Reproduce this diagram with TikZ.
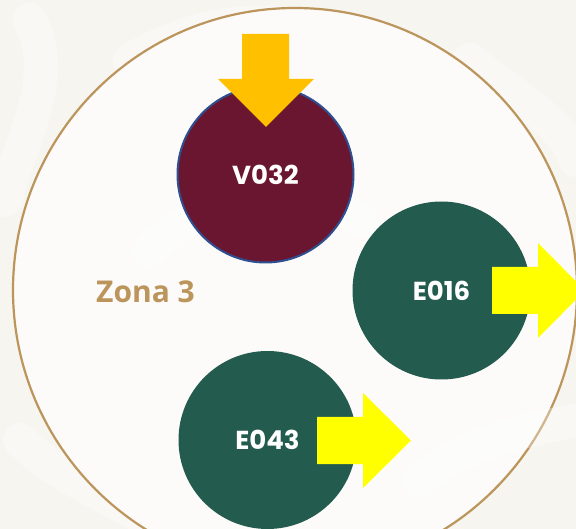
\documentclass[tikz,border=0pt]{standalone}
\usepackage{fontspec}
\setmainfont{Poppins}[BoldFont={* Bold}]
\newfontfamily\zonafont{Open Sans}
\definecolor{bgcream}{HTML}{F7F5F0}
\definecolor{inner}{HTML}{FCFBF9}
\definecolor{tan}{HTML}{BC955C}
\definecolor{maroon}{HTML}{6B1630}
\definecolor{navyedge}{HTML}{2E5090}
\definecolor{darkgreen}{HTML}{235B4E}
\definecolor{amber}{HTML}{FFC000}
\definecolor{brightyellow}{HTML}{FFFF00}
\tikzset{
  zone/.style={circle, draw=tan, line width=2.2pt, fill=inner, minimum size=564pt, inner sep=0pt},
  vbubble/.style={circle, fill=maroon, draw=navyedge, line width=2pt, minimum size=176pt, inner sep=0pt,
    text=white, font=\fontsize{26}{30}\selectfont\bfseries},
  ebubble/.style={circle, fill=darkgreen, minimum size=178pt, inner sep=0pt,
    text=white, font=\fontsize{26}{30}\selectfont\bfseries},
  zonelabel/.style={text=tan, font=\zonafont\fontsize{30}{34}\selectfont\bfseries, inner sep=0pt},
}
\begin{document}
\begin{tikzpicture}[x=1pt,y=-1pt]
\useasboundingbox (0,0) rectangle (576,529);
\clip (0,0) rectangle (576,529);
\fill[bgcream] (0,0) rectangle (576,529);
% faint background swirls
\begin{scope}[white, line width=34pt, line cap=round, opacity=0.35]
  \draw (30,20) .. controls (60,80) and (20,140) .. (5,200);
  \draw (130,60) .. controls (200,20) and (280,10) .. (330,40);
  \draw (20,440) .. controls (60,480) and (120,500) .. (160,529);
  \draw (470,60) .. controls (520,100) and (560,120) .. (576,160);
\end{scope}
\node[zone] (zona) at (295,290) {};
\begin{scope}[white, line width=34pt, line cap=round, opacity=0.3]
  \draw (150,250) .. controls (200,200) and (300,170) .. (360,220);
  \draw (420,480) .. controls (470,440) and (530,430) .. (576,420);
\end{scope}
\node[zonelabel] (zlab) at (145.5,292) {Zona 3};
\node[vbubble] (v032) at (265.5,174.5) {V032};
\node[ebubble] (e016) at (441.5,290.5) {E016};
\node[ebubble] (e043) at (267.5,440) {E043};
% arrows
\fill[amber] (242,34) -- (289,34) -- (289,79) -- (314,79) -- (266,127) -- (218,79) -- (242,79) -- cycle;
\fill[brightyellow] (492,267) -- (538,267) -- (538,243) -- (585,290.5) -- (538,338) -- (538,314) -- (492,314) -- cycle;
\fill[brightyellow] (317,417) -- (363,417) -- (363,393) -- (411,440.5) -- (363,488) -- (363,464) -- (317,464) -- cycle;
\end{tikzpicture}
\end{document}
